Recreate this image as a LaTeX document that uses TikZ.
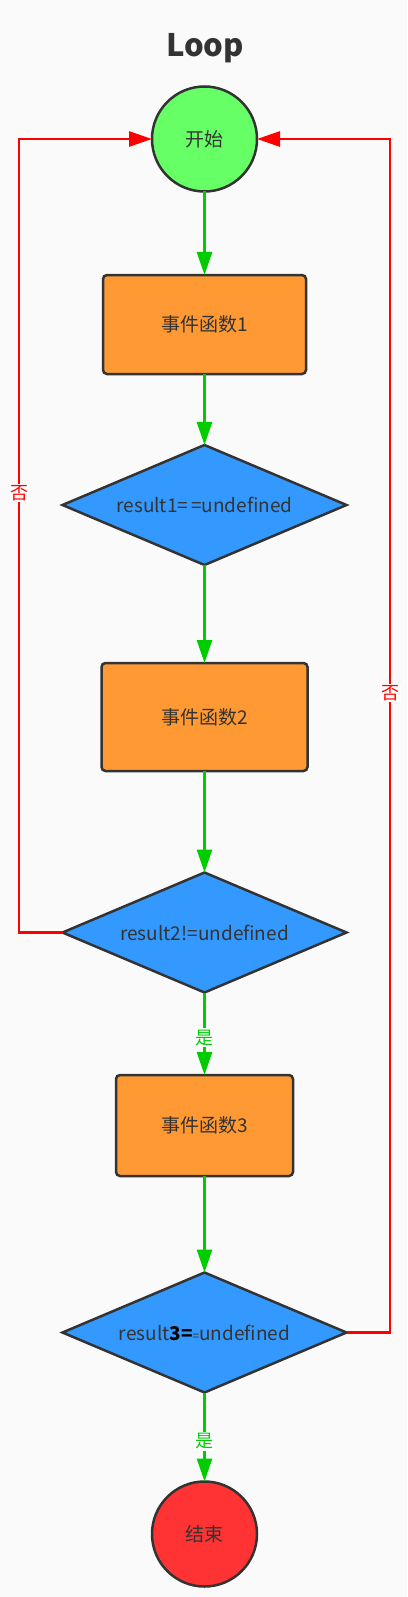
\documentclass[tikz,border=0pt]{standalone}
\usepackage{fontspec}
\setmainfont{Noto Sans CJK SC}
\usetikzlibrary{positioning}
\usetikzlibrary{shapes.geometric}
\usetikzlibrary{arrows.meta}
\definecolor{txt}{HTML}{333333}
\definecolor{bg}{HTML}{FAFAFA}
\definecolor{gostart}{HTML}{66FF66}
\definecolor{stopred}{HTML}{FF3333}
\definecolor{fnorange}{HTML}{FF9933}
\definecolor{testblue}{HTML}{3399FF}
\definecolor{yesgreen}{HTML}{00CC00}
\definecolor{nored}{HTML}{FF0000}
\tikzset{>={Triangle[length=23pt,width=15pt]}}
\tikzset{term/.style={draw=txt,circle,line width=2.5pt,minimum size=105pt,inner sep=0pt,outer sep=0pt,text=txt,font=\fontsize{19}{22}\selectfont}}
\tikzset{fn/.style={draw=txt,rectangle,rounded corners=4pt,line width=2.5pt,fill=fnorange,inner sep=0pt,outer sep=0pt,text=txt,font=\fontsize{19}{22}\selectfont}}
\tikzset{test/.style={draw=txt,diamond,aspect=2.37,line width=2.5pt,fill=testblue,minimum width=284pt,minimum height=120pt,inner sep=0pt,outer sep=0pt,text=txt,font=\fontsize{19}{22}\selectfont}}
\tikzset{yes/.style={->,draw=yesgreen,line width=2.7pt}}
\tikzset{no/.style={->,draw=nored,line width=2.7pt}}
\tikzset{lbl/.style={fill=white,inner sep=1.5pt,font=\fontsize{18}{20}\selectfont}}

\begin{document}
\begin{tikzpicture}[x=1pt,y=-1pt]
\fill[bg] (0,0) rectangle (407,1597);
\useasboundingbox (0,0) rectangle (407,1597);

\node[text=txt,font=\fontsize{31}{35}\selectfont\bfseries] (title) at (205,48) {Loop};

\node[term,fill=gostart] (start) at (204.5,139) {开始};
\node[fn,minimum width=203pt,minimum height=99pt] (f1) at (204.5,324.5) {事件函数1};
\node[test] (r1) at (204.5,505) {result1=\,=undefined};
\node[fn,minimum width=206pt,minimum height=108pt] (f2) at (204.5,717) {事件函数2};
\node[test] (r2) at (204.5,932.5) {result2!=undefined};
\node[fn,minimum width=177pt,minimum height=101pt] (f3) at (204.5,1125.5) {事件函数3};
\node[test] (r3) at (204.5,1332.5) {result\textbf{\color{black}3=}{\fontsize{12}{13}\selectfont=}undefined};
\node[term,fill=stopred] (stop) at (204.5,1534) {结束};

\coordinate (lcorner) at (19,932.5);
\coordinate (rcorner) at (390,1332.5);

\draw[yes] (start) -- (f1);
\draw[yes] (f1) -- (r1);
\draw[yes] (r1) -- (f2);
\draw[yes] (f2) -- (r2);
\draw[yes] (r2) -- (f3) node[lbl,pos=0.55,text=yesgreen] {是};
\draw[yes] (f3) -- (r3);
\draw[yes] (r3) -- (stop) node[lbl,pos=0.55,text=yesgreen] {是};

\draw[no] (r2.west) -- (lcorner) |- (start.west) node[lbl,pos=0.277,text=nored] {否};
\draw[no] (r3.east) -- (rcorner) |- (start.east) node[lbl,pos=0.268,text=nored] {否};
\end{tikzpicture}
\end{document}
